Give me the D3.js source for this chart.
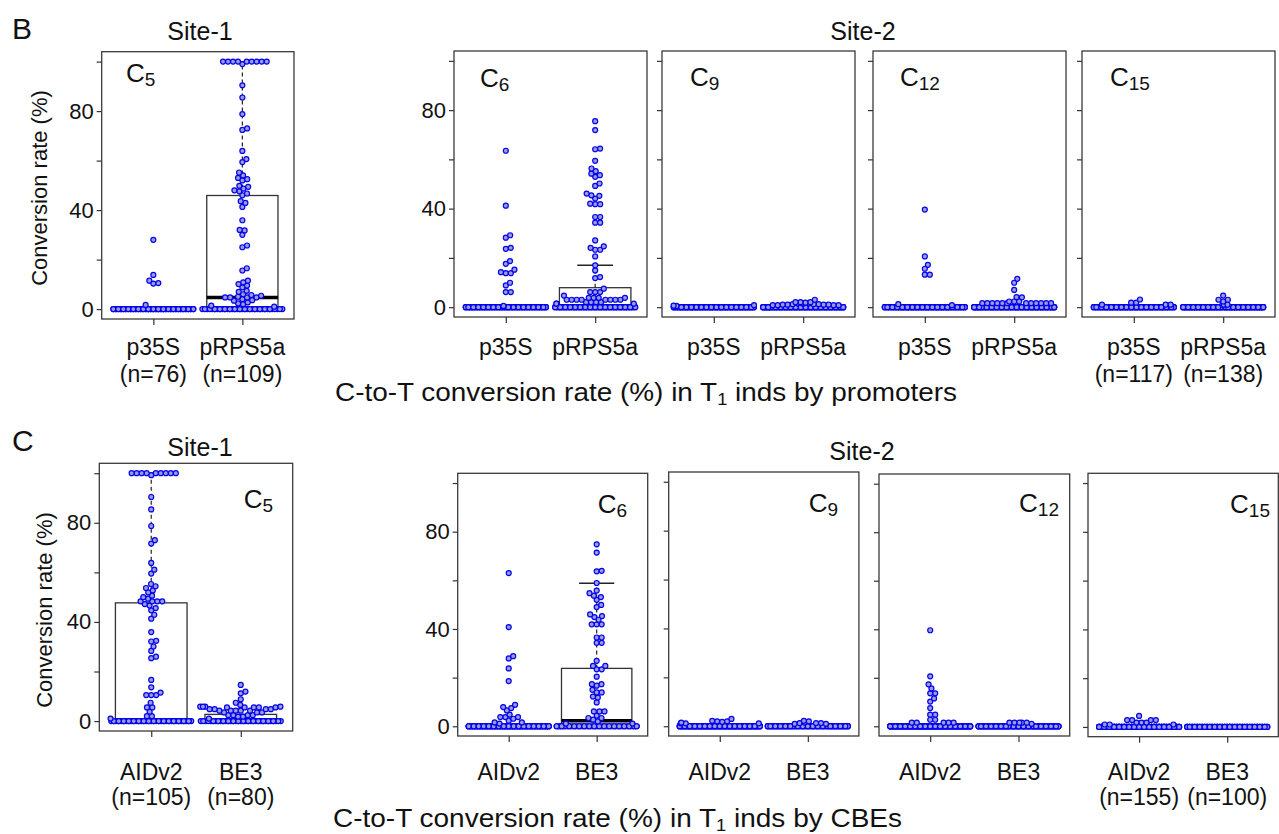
<!DOCTYPE html>
<html>
<head>
<meta charset="utf-8">
<title>C-to-T conversion rate in T1 inds</title>
<script src="https://d3js.org/d3.v7.min.js"></script>
<style>
body { margin: 0; background: #fff; }
svg text { font-family: "Liberation Sans", Arial, sans-serif; fill: #111; }
.frame { fill: none; stroke: #3a3a3a; stroke-width: 1.3; }
.axis { color: #333; }
.axis path.domain { display: none; }
.axis line { stroke-width: 1.2; }
.axis text { font-size: 22px; fill: #111; }
.pt { fill: #9c9cd0; stroke: #0000f5; stroke-width: 1.2; }
</style>
</head>
<body>
<svg id="fig" width="1279" height="834"></svg>

<script>
// ---- values ----
var promoters = ["p35S", "pRPS5a"];
var editors = ["AIDv2", "BE3"];
var positions = ["5", "6", "9", "12", "15"];   // C position in the target

// panel B (by promoter): non-zero conversion rates per group, and how many inds sat at 0
var bC5 = [
  [28, 13.8, 11.5, 10.5, 10.3, 1.7],
  [100, 100, 100, 100, 100, 100, 100, 100, 100, 99,
   90.4, 85.5, 78.8, 73, 72.4, 63.9, 60.6, 59.4, 55.2, 54,
   53, 52.5, 52, 49.8, 49.4, 48.7, 48, 47.6, 46.7, 46,
   43.6, 42.9, 41.3, 35.9, 32, 31.8, 30, 25.7, 25, 16.5,
   15.6, 11.5, 10.8, 10.1, 9.5, 8.8, 7.4, 7, 6, 5.7,
   5.4, 5, 4.7, 4.7, 4.7, 4.7, 4, 3.6, 3.4, 2.7,
   2.3, 2, 1.4, 1]
];
var bC6 = [
  [63.5, 41.2, 29.2, 28.2, 24.1, 23.7, 18.7, 17.6, 15.2, 14.2, 13.8, 13.8, 9.9, 8.8, 6.1, 6.1, 0.5],
  [75.5, 71.9, 64.4, 64.1, 59.4, 56.3, 55.2, 54.2, 53.6, 52.9,
   50.2, 49.2, 46.1, 45.4, 45.2, 44.1, 42, 41.8, 41.8, 36.6,
   36.6, 34.3, 34.3, 27.1, 24.7, 24.1, 23.3, 23.3, 20.6, 17,
   14.9, 12.2, 11.8, 7.5, 6.1, 6.1, 6.1, 4.7, 3.8, 3.8,
   3.8, 3.8, 3, 3, 3, 3, 3, 3, 3, 3,
   2, 2, 2, 2, 1.4, 1.4, 1.4]
];
var bC9 = [
  [0.8, 0.6, 0.5],
  [3, 2, 2, 2, 1.8, 1.5, 1.5, 1.5, 1.5, 1.2, 1.2, 1.2, 1, 1, 1, 1, 0.8, 0.8, 0.8, 0.8]
];
var bC12 = [
  [39.6, 20.6, 17.2, 15.6, 13.2, 13.2, 1.2, 0.8],
  [11.5, 9.9, 7, 4.1, 4, 2.3, 2.3, 2.3, 1.6, 1.6, 1.6, 1.6, 1.6, 1.6, 1.6, 1.6, 1.6, 1.6, 1.6, 1.6]
];
var bC15 = [
  [3.1, 1.8, 1.8, 1, 1, 1],
  [4.7, 3, 3, 2.3, 1, 1, 1]
];
var bZeros = [[70, 45], [100, 81], [114, 118], [109, 118], [111, 131]];
// box stats [q1, median, q3, upper whisker]
var bBox = [
  [[0, 0, 0, 0], [0, 4.7, 45.9, 100]],
  [[0, 0, 0, 0], [0, 0, 7.9, 17]],
  [[0, 0, 0, 0], [0, 0, 0, 0]],
  [[0, 0, 0, 0], [0, 0, 0, 0]],
  [[0, 0, 0, 0], [0, 0, 0, 0]]
];

// panel C (by cytidine base editor)
var cC5 = [
  [100, 100, 100, 100, 100, 100, 100, 100, 100, 99.2,
   90.4, 85.4, 78.7, 73, 71.6, 63.8, 61.1, 59.5, 55.3, 54.4,
   53.7, 52.7, 51.9, 50.6, 50, 49.4, 48.3, 48.3, 48.3, 48.3,
   47.2, 46.6, 45.6, 44.7, 42.9, 41.3, 35.9, 32.4, 32.1, 30.1,
   28.3, 26, 25.4, 16.6, 13.6, 11.5, 10.5, 10.5, 10.5, 7.4,
   5.5, 5.5, 3.8, 2, 2, 1],
  [14.6, 11.9, 11.2, 8.8, 7.4, 6.5, 5.8, 5.8, 5.8, 5.8,
   5.5, 5.5, 5.5, 5.5, 5.5, 4.8, 4.8, 4.8, 4.8, 4.2,
   4.2, 4.2, 4.2, 4.2, 3.5, 3.5, 3.5, 2.4, 2.4, 2.4,
   2.4, 1.8, 1.8, 1]
];
var cC6 = [
  [63, 40.8, 28.8, 27.9, 23.8, 18.6, 8.8, 7.9, 7.5, 6.5, 4.8, 3.8, 3.8, 3.8, 3.1, 2.3, 1.6, 1.6, 1.1],
  [74.8, 71.4, 63.9, 63.7, 58.9, 55.8, 54.7, 53.7, 53.1, 52,
   49.9, 49, 46, 45.3, 44.9, 43.8, 41.9, 41.9, 41.9, 36.5,
   36.5, 34.3, 34.3, 26.9, 24.8, 24.8, 23.4, 23.4, 20.4, 17.3,
   17.3, 16.7, 15, 13.9, 13.9, 12.2, 11.8, 9.8, 6.1, 6.1,
   6.1, 4.4, 3.4, 3.4, 2.7, 2, 1.1, 1.1]
];
var cC9 = [
  [3, 2.2, 2, 2, 1.8, 1.5, 1.2, 1.2, 1.2],
  [2.2, 2, 1.5, 1.3, 1.3, 1.3, 1, 1]
];
var cC12 = [
  [39.6, 20.6, 17.3, 15.6, 13.6, 13.6, 11.5, 10.2, 7.5, 4.8, 4.8, 2.7, 2.7, 1.5, 1.5, 1.5, 1.5, 1.5],
  [1.5, 1.5, 1.5, 1.5, 1.5, 1]
];
var cC15 = [
  [4.5, 2.8, 2.8, 2.8, 2.8, 1.8, 1.8, 1.8, 1, 1, 1],
  []
];
var cZeros = [[49, 46], [136, 52], [146, 92], [137, 94], [144, 100]];
var cBox = [
  [[0, 0, 47.7, 100], [0, 0, 2.7, 2.7]],
  [[0, 0, 0, 0], [0, 2.3, 23.8, 58.8]],
  [[0, 0, 0, 0], [0, 0, 0, 0]],
  [[0, 0, 0, 0], [0, 0, 0, 0]],
  [[0, 0, 0, 0], [0, 0, 0, 0]]
];

var yTicks = [0, 20, 40, 60, 80, 100];

// ---- layout ----
var rows = [
  { tag: "B", tagY: 39, cats: promoters, vals: [bC5, bC6, bC9, bC12, bC15], zeros: bZeros, box: bBox,
    frames: [[101.7, 294, 51.7, 319], [454, 647, 51, 317], [662, 855, 51, 317], [873, 1066, 51, 317], [1082, 1275, 51, 317]],
    cLab: [[126, 82, "start"], [480, 87, "start"], [690, 86, "start"], [900, 86, "start"], [1110, 86, "start"]],
    site1: [200, 40], site2: [863, 40], tickY: 355, nY: 382, yTitle: [47, 188],
    title: " inds by promoters", titleXY: [335, 401], titleW: 622 },
  { tag: "C", tagY: 451, cats: editors, vals: [cC5, cC6, cC9, cC12, cC15], zeros: cZeros, box: cBox,
    frames: [[99.3, 292.7, 463.3, 731], [457.7, 647.7, 473.3, 736], [668.7, 858.9, 472, 736], [879, 1069.7, 474, 736], [1088, 1278.3, 473.3, 736.7]],
    cLab: [[273, 508, "end"], [627, 513, "end"], [838, 512, "end"], [1059, 512, "end"], [1270, 513, "end"]],
    site1: [200, 456], site2: [862, 460], tickY: 780, nY: 805, yTitle: [52, 610],
    title: " inds by CBEs", titleXY: [333, 827], titleW: 569 }
];

var svg = d3.select("#fig");
var R = 2.5, D = 5;
var CORRAL = D * 16.5 / 2;   // half width; not a multiple of D so wrapped rows interleave

// beeswarm, ascending priority, wrapped inside the corral
function swarm(values, y, w) {
  var placed = [];
  values.slice().sort(d3.ascending).forEach(function(v) {
    var py = y(v), cands = [0];
    placed.forEach(function(p) {
      var dy = Math.abs(p.py - py);
      if (dy < D) {
        var dx = Math.sqrt(D * D - dy * dy);
        cands.push(p.sx + dx, p.sx - dx);
      }
    });
    cands.sort(function(a, b) { return Math.abs(a) - Math.abs(b); });
    var sx = cands.find(function(c) {
      return placed.every(function(p) {
        var dx = p.sx - c, dy = p.py - py;
        return dx * dx + dy * dy > D * D - 0.01;
      });
    });
    placed.push({ v: v, py: py, sx: sx });
  });
  placed.forEach(function(p) {
    p.dx = ((p.sx + w) % (2 * w) + 2 * w) % (2 * w) - w;
  });
  return placed;
}

rows.forEach(function(row) {
  svg.append("text").attr("x", 12).attr("y", row.tagY).style("font-size", "30px").text(row.tag);
  svg.append("text").attr("x", row.site1[0]).attr("y", row.site1[1]).attr("text-anchor", "middle")
    .style("font-size", "25px").text("Site-1");
  svg.append("text").attr("x", row.site2[0]).attr("y", row.site2[1]).attr("text-anchor", "middle")
    .style("font-size", "25px").text("Site-2");

  svg.append("text")
    .attr("transform", "translate(" + row.yTitle[0] + "," + row.yTitle[1] + ") rotate(-90)")
    .attr("text-anchor", "middle").style("font-size", "22px")
    .text("Conversion rate (%)");

  var t = svg.append("text").attr("x", row.titleXY[0]).attr("y", row.titleXY[1])
    .attr("textLength", row.titleW).attr("lengthAdjust", "spacingAndGlyphs")
    .style("font-size", "26px");
  t.append("tspan").text("C-to-T conversion rate (%) in T");
  t.append("tspan").attr("dy", 4).style("font-size", "17px").text("1");
  t.append("tspan").attr("dy", -4).text(row.title);

  row.frames.forEach(function(f, i) {
    var x = d3.scaleLinear().domain([0.42, 2.58]).range([f[0], f[1]]);
    var y = d3.scaleLinear().domain([-4, 104]).range([f[3], f[2]]);
    var unit = x(2) - x(1);
    var g = svg.append("g");

    g.append("g").attr("class", "axis").attr("transform", "translate(" + f[0] + ",0)")
      .call(d3.axisLeft(y).tickValues(yTicks).tickSize(5).tickPadding(3)
        .tickFormat(function(d) { return i < 2 && d % 40 === 0 ? d : ""; }));
    g.append("g").attr("class", "axis").attr("transform", "translate(0," + f[3] + ")")
      .call(d3.axisBottom(x).tickValues([1, 2]).tickSize(6).tickFormat(""));

    row.cats.forEach(function(cat, k) {
      var cx = x(k + 1);
      var b = row.box[i][k];
      if (b[2] > b[0]) {
        var bw = 0.4 * unit;
        if (b[3] > b[2]) {
          g.append("line").attr("x1", cx).attr("x2", cx).attr("y1", y(b[2])).attr("y2", y(b[3]))
            .attr("stroke", "#222").attr("stroke-width", 1.2).attr("stroke-dasharray", "4,3");
          g.append("line").attr("x1", cx - bw / 2).attr("x2", cx + bw / 2).attr("y1", y(b[3])).attr("y2", y(b[3]))
            .attr("stroke", "#222").attr("stroke-width", 1.4);
        }
        g.append("rect").attr("x", cx - bw).attr("width", 2 * bw)
          .attr("y", y(b[2])).attr("height", y(b[0]) - y(b[2]))
          .attr("fill", "none").attr("stroke", "#333").attr("stroke-width", 1.3);
        if (b[1] > b[0]) {
          g.append("line").attr("x1", cx - bw).attr("x2", cx + bw).attr("y1", y(b[1])).attr("y2", y(b[1]))
            .attr("stroke", "#000").attr("stroke-width", 3.5);
        }
      }

      var vals = row.vals[i][k].concat(d3.range(row.zeros[i][k]).map(function() { return 0; }));
      var pts = swarm(vals, y, CORRAL);
      g.selectAll(null).data(pts).enter().append("circle").attr("class", "pt")
        .attr("cx", function(p) { return cx + p.dx; })
        .attr("cy", function(p) { return p.py; })
        .attr("r", R);

      g.append("text").attr("x", cx).attr("y", row.tickY).attr("text-anchor", "middle")
        .style("font-size", "23px").text(cat);
      if (i === 0 || i === row.frames.length - 1) {
        g.append("text").attr("x", cx).attr("y", row.nY).attr("text-anchor", "middle")
          .style("font-size", "23px").text("(n=" + vals.length + ")");
      }
    });

    g.append("rect").attr("class", "frame").attr("x", f[0]).attr("y", f[2])
      .attr("width", f[1] - f[0]).attr("height", f[3] - f[2]);

    var lab = g.append("text").attr("x", row.cLab[i][0]).attr("y", row.cLab[i][1])
      .attr("text-anchor", row.cLab[i][2]).style("font-size", "26px");
    lab.append("tspan").text("C");
    lab.append("tspan").attr("dy", 4).style("font-size", "19px").text(positions[i]);
  });
});
</script>
</body>
</html>
